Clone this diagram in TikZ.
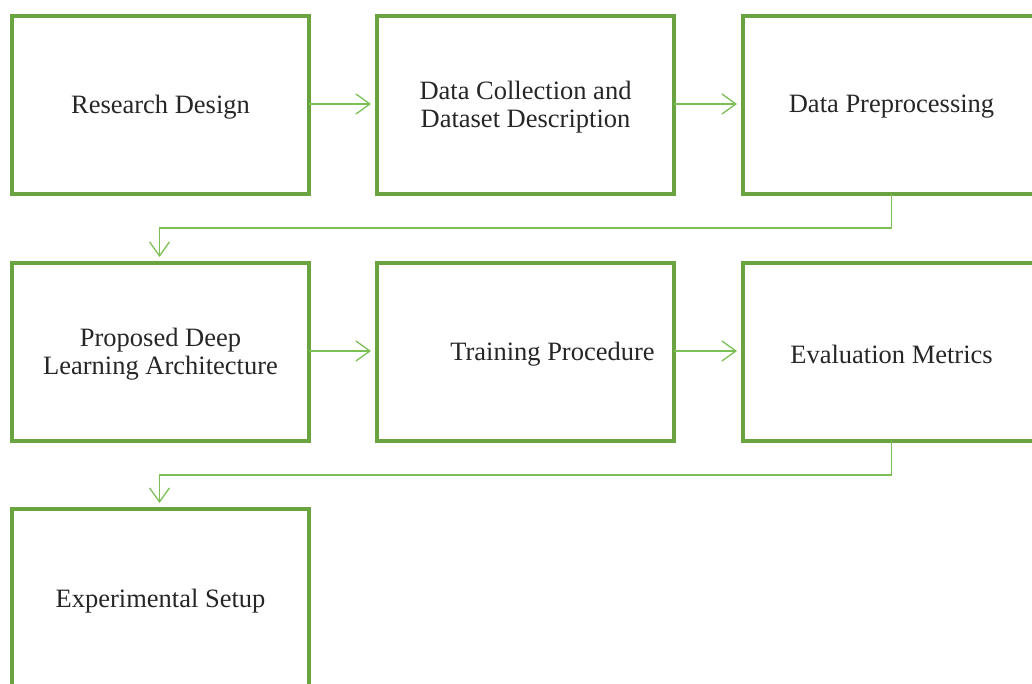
\documentclass[tikz,border=0pt]{standalone}
\usepackage{fontspec}
\setmainfont{Liberation Serif}
\usetikzlibrary{arrows.meta,positioning}
\definecolor{boxgreen}{HTML}{6AA441}
\definecolor{linegreen}{HTML}{7CBF55}
\begin{document}
\begin{tikzpicture}[x=1pt,y=-1pt,
  stagebox/.style={draw=boxgreen,line width=4pt,outer sep=0pt,minimum width=297pt,minimum height=178pt,inner sep=0pt,anchor=north west},
  lbl/.style={font=\fontsize{26.5}{28}\selectfont,align=center,text=black!85},
  conn/.style={draw=linegreen,line width=1.3pt,shorten >=6pt,-{Straight Barb[length=14pt,width=20pt,line width=1.3pt]}}]
\useasboundingbox (0,0) rectangle (1032,684);
\node[stagebox] (b1) at (12,16) {};
\node[stagebox] (b2) at (377,16) {};
\node[stagebox] (b3) at (743,16) {};
\node[stagebox] (b4) at (12,263) {};
\node[stagebox] (b5) at (377,263) {};
\node[stagebox] (b6) at (743,263) {};
\node[stagebox] (b7) at (12,509) {};
\node[lbl] (t1) at ([yshift=-2pt]b1.center) {Research Design};
\node[lbl] (t2) at ([yshift=-2pt]b2.center) {Data Collection and\\Dataset Description};
\node[lbl] (t3) at ([yshift=-2pt]b3.center) {Data Preprocessing};
\node[lbl] (t4) at ([yshift=-2pt]b4.center) {Proposed Deep\\Learning Architecture};
\node[lbl] (t5) at ([xshift=27pt,yshift=-2pt]b5.center) {Training Procedure};
\node[lbl] (t6) at ([yshift=-2pt]b6.center) {Evaluation Metrics};
\node[lbl] (t7) at ([yshift=-3pt]b7.center) {Experimental Setup};
\draw[conn] ([yshift=1pt]b1.east) -- ([yshift=1pt]b2.west);
\draw[conn] ([yshift=1pt]b2.east) -- ([yshift=1pt]b3.west);
\draw[conn] ([yshift=1pt]b4.east) -- ([yshift=1pt]b5.west);
\draw[conn] ([yshift=1pt]b5.east) -- ([yshift=1pt]b6.west);
\coordinate (k1) at ([yshift=-34pt]b3.south);
\coordinate (k2) at ([yshift=-34pt]b6.south);
\draw[conn] (b3.south) -- (k1) -| ([xshift=-1pt]b4.north);
\draw[conn] (b6.south) -- (k2) -| ([xshift=-1pt]b7.north);
\end{tikzpicture}
\end{document}
